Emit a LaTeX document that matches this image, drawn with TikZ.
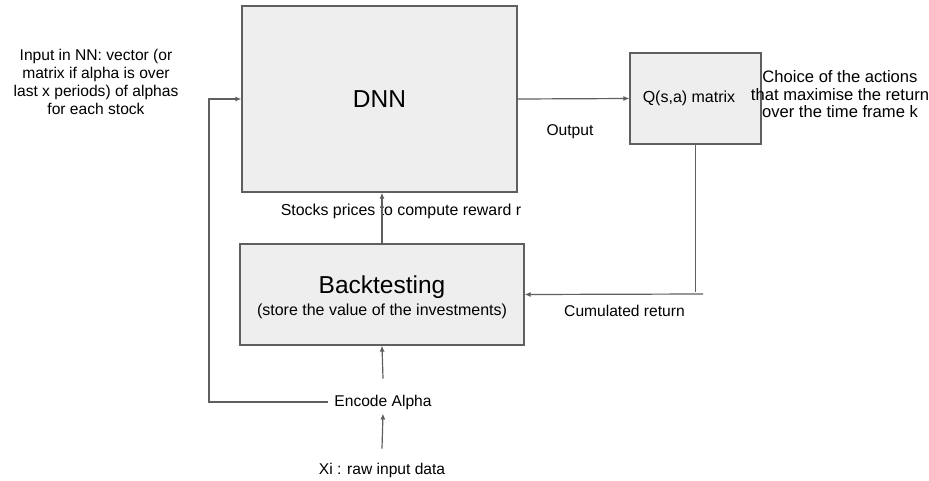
\documentclass[tikz,border=0pt]{standalone}
\usepackage{fontspec}
\setmainfont{Liberation Sans}
\usetikzlibrary{arrows.meta}
\definecolor{boxfill}{HTML}{EEEEEE}
\definecolor{linec}{HTML}{5F5F5F}
\begin{document}
\begin{tikzpicture}[x=1pt,y=-1pt,
  box/.style={draw=linec,fill=boxfill,line width=1.2pt,inner sep=0pt},
  lbl/.style={font=\fontsize{15.6}{18}\selectfont,inner sep=2pt,align=center},
  arr/.style={draw=linec,line width=1.2pt,-{Latex[length=6pt,width=5pt]}},
  ln/.style={draw=linec,line width=1.2pt}]
\useasboundingbox (0,0) rectangle (929,480);
\node[box,minimum width=275pt,minimum height=186pt] (dnn) at (379.5,99) {};
\node[font=\fontsize{24.5}{28}\selectfont] (dnnt) at (dnn.center) {DNN};
\node[box,minimum width=131pt,minimum height=91pt] (q) at (695.5,98.5) {};
\node[lbl,font=\fontsize{16}{18}\selectfont] (qt) at (689,98.5) {Q(s,a) matrix};
\node[box,minimum width=284pt,minimum height=101pt] (bt) at (382,294.5) {};
\node[font=\fontsize{24.5}{28}\selectfont] (btt) at (382,287) {Backtesting};
\node[font=\fontsize{16}{18}\selectfont] (bts) at (382,311) {(store the value of the investments)};
\node[lbl] (input) at (96,82) {Input in NN: vector (or\\matrix if alpha is over\\last x periods) of alphas\\for each stock};
\node[lbl,font=\fontsize{16.6}{17.5}\selectfont] (choice) at (840,94.5) {Choice of the actions\\that maximise the return\\over the time frame k};
\node[lbl] (out) at (570,132) {Output};
\node[lbl,font=\fontsize{15.9}{18}\selectfont] (stock) at (401,211) {Stocks prices to compute reward r};
\node[lbl] (cum) at (624.5,311) {Cumulated return};
\node[lbl] (enc) at (383,402) {Encode Alpha};
\node[lbl] (xi) at (382,470) {Xi : raw input data};
\coordinate (rc) at (703,294);
\coordinate (lc) at (209,0);
\draw[arr] (dnn.east) -- (q.west);
\draw[ln] ([yshift=2pt]q.south) -- ([yshift=2pt]q.south |- rc);
\draw[arr] (rc) -- (bt.east);
\draw[arr] (bt.north) -- (bt.north |- dnn.south);
\draw[arr] ([yshift=14pt]enc.north) -- (bt.south);
\draw[arr] ([yshift=12pt]xi.north) -- ([yshift=-2pt]enc.south);
\draw[arr] ([xshift=-4pt]enc.west) -- (enc.west -| lc) |- (dnn.west);
\end{tikzpicture}
\end{document}
